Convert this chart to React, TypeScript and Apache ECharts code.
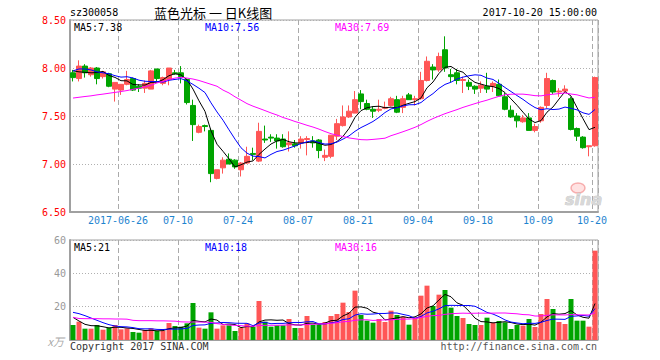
import React, { useEffect, useRef } from "react";
import * as echarts from "echarts";

// ---- data ----
const dates = [
  "2017-06-14","2017-06-15","2017-06-16","2017-06-19","2017-06-20","2017-06-21","2017-06-22","2017-06-23","2017-06-26","2017-06-27",
  "2017-06-28","2017-06-29","2017-06-30","2017-07-03","2017-07-04","2017-07-05","2017-07-06","2017-07-07","2017-07-10","2017-07-11",
  "2017-07-12","2017-07-13","2017-07-14","2017-07-17","2017-07-18","2017-07-19","2017-07-20","2017-07-21","2017-07-24","2017-07-25",
  "2017-07-26","2017-07-27","2017-07-28","2017-07-31","2017-08-01","2017-08-02","2017-08-03","2017-08-04","2017-08-07","2017-08-08",
  "2017-08-09","2017-08-10","2017-08-11","2017-08-14","2017-08-15","2017-08-16","2017-08-17","2017-08-18","2017-08-21","2017-08-22",
  "2017-08-23","2017-08-24","2017-08-25","2017-08-28","2017-08-29","2017-08-30","2017-08-31","2017-09-01","2017-09-04","2017-09-05",
  "2017-09-06","2017-09-07","2017-09-08","2017-09-11","2017-09-12","2017-09-13","2017-09-14","2017-09-15","2017-09-18","2017-09-19",
  "2017-09-20","2017-09-21","2017-09-22","2017-09-25","2017-09-26","2017-09-27","2017-09-28","2017-09-29","2017-10-09","2017-10-10",
  "2017-10-11","2017-10-12","2017-10-13","2017-10-16","2017-10-17","2017-10-18","2017-10-19","2017-10-20",
];

const opens = [
  7.95,7.89,8.02,7.93,8.00,7.91,7.94,7.78,7.77,7.83,
  7.89,7.81,7.79,7.78,7.99,7.84,7.88,7.95,7.95,7.88,
  7.61,7.33,7.40,7.35,6.85,6.96,7.05,7.04,6.94,7.01,
  7.11,7.03,7.26,7.28,7.27,7.26,7.20,7.21,7.22,7.255,
  7.24,7.25,7.07,7.08,7.29,7.40,7.49,7.53,7.73,7.63,
  7.57,7.56,7.58,7.61,7.67,7.59,7.72,7.67,7.68,7.87,
  8.01,7.98,8.19,7.93,7.95,7.87,7.85,7.81,7.79,7.81,
  7.81,7.83,7.70,7.56,7.50,7.44,7.48,7.35,7.45,7.61,
  7.87,7.75,7.76,7.68,7.37,7.28,7.18,7.19,
];
const closes = [
  7.90,8.02,7.95,8.00,7.89,7.96,7.81,7.85,7.83,7.88,
  7.77,7.79,7.84,7.97,7.89,7.90,8.00,7.94,7.91,7.64,
  7.41,7.39,7.39,6.90,6.94,7.04,7.00,6.97,7.01,7.08,
  7.10,7.34,7.25,7.27,7.24,7.18,7.22,7.19,7.26,7.265,
  7.22,7.14,7.09,7.30,7.42,7.49,7.55,7.67,7.65,7.57,
  7.55,7.57,7.59,7.68,7.54,7.68,7.67,7.68,7.87,8.07,
  7.98,8.12,8.00,7.91,7.87,7.88,7.81,7.78,7.82,7.78,
  7.84,7.71,7.57,7.49,7.45,7.48,7.35,7.39,7.59,7.89,
  7.75,7.76,7.78,7.36,7.29,7.17,7.19,7.90,
];
const lows = [
  7.86,7.86,7.90,7.91,7.83,7.89,7.80,7.65,7.72,7.82,
  7.76,7.75,7.74,7.78,7.86,7.82,7.82,7.93,7.84,7.62,
  7.24,7.32,7.34,6.81,6.84,6.90,7.00,6.95,6.87,7.00,
  7.04,7.02,7.22,7.23,7.16,7.17,7.13,7.17,7.16,7.09,
  7.17,7.06,7.03,7.06,7.25,7.39,7.48,7.53,7.57,7.56,
  7.48,7.54,7.57,7.60,7.53,7.53,7.67,7.61,7.67,7.86,
  7.88,7.96,7.96,7.85,7.83,7.74,7.77,7.73,7.74,7.74,
  7.75,7.70,7.56,7.48,7.38,7.43,7.35,7.33,7.43,7.58,
  7.73,7.70,7.74,7.35,7.24,7.16,7.08,7.18,
];
const highs = [
  7.98,8.08,8.04,8.01,8.01,7.97,7.95,7.85,7.83,7.97,
  7.90,7.83,7.87,7.98,7.99,7.91,8.00,7.98,8.02,7.89,
  7.67,7.41,7.41,7.37,6.94,7.07,7.11,7.05,7.02,7.18,
  7.17,7.43,7.40,7.31,7.31,7.31,7.34,7.25,7.29,7.29,
  7.29,7.26,7.15,7.30,7.47,7.61,7.61,7.76,7.77,7.67,
  7.60,7.67,7.65,7.70,7.71,7.71,7.74,7.71,7.96,8.12,
  8.04,8.16,8.33,7.99,7.99,7.91,7.88,7.82,7.86,7.95,
  7.86,7.88,7.74,7.61,7.53,7.51,7.53,7.42,7.60,7.95,
  7.88,7.79,7.82,7.70,7.38,7.29,7.19,7.91,
];
const volumes = [
  9,11,6.8,6.8,9,6.2,7.4,9,6.4,7,
  4.8,4.4,6,7,5.4,5.4,10.2,8.4,8,10,
  22.2,7.4,6.8,16.6,6.8,8.8,8.8,5.4,7.4,10,
  8,23.4,11,8,8.8,8.8,12.6,7.2,7.2,14.4,
  9.2,9.2,10.8,14.4,15.6,22.4,16.8,29.6,15,11.6,
  10.4,12.6,10.8,17.6,15,14,9.2,13.6,26.6,32.6,
  20.4,27.2,30,19.4,14.4,13.2,9.6,9,9,13.4,
  10.4,11.4,10.6,6.6,9,8.6,12.6,7.8,15.6,24.6,
  18.6,10.8,9.6,24.6,11.6,11.6,8,53.6,
];

// moving-average values at the start of the window (they depend on earlier days)
const ma5Lead = [7.97, 7.96, 7.955, 7.95];
const ma10Lead = [7.97, 7.99, 7.99, 7.98, 7.96, 7.95, 7.94, 7.92, 7.905];
const ma30Lead = [
  7.687,7.695,7.703,7.71,7.72,7.728,7.737,7.746,7.755,7.765,
  7.778,7.79,7.805,7.82,7.845,7.86,7.88,7.895,7.903,7.895,
  7.885,7.87,7.85,7.83,7.81,7.77,7.74,7.70,7.665,
];
const volMa5Lead = [13.6, 11.4, 9.4, 8.6];
const volMa10Lead = [16.6, 15.8, 14.6, 13.2, 11.8, 10.4, 9.2, 8.4, 8.0];
const volMa30Lead = [
  13.6,12.9,12.8,12.8,12.8,12.7,12.7,12.6,12.6,12.5,
  11.8,11.6,11.6,11.6,11.5,11.5,11.4,11.3,10.9,10.8,
  10.8,10.8,10.7,10.6,9.8,9.4,9.0,8.8,8.6,
];

const tickDates = ["2017-06-26","2017-07-10","2017-07-24","2017-08-07","2017-08-21","2017-09-04","2017-09-18","2017-10-09","2017-10-20"];
const tickLabels = ["2017-06-26","07-10","07-24","08-07","08-21","09-04","09-18","10-09","10-20"];

const priceTicks = [6.5, 7.0, 7.5, 8.0, 8.5];
const volTicks = [0, 20, 40, 60];

const titleCode = "sz300058";
const titleName = "蓝色光标 一 日K线图";
const titleTime = "2017-10-20 15:00:00";
const priceMaLabels = ["MA5:7.38", "MA10:7.56", "MA30:7.69"];
const volMaLabels = ["MA5:21", "MA10:18", "MA30:16"];

// ---- helpers ----
function movingAvg(vals: number[], n: number, lead: number[]) {
  return vals.map((_, i) => {
    if (i < n - 1) return lead[i];
    let s = 0;
    for (let k = i - n + 1; k <= i; k++) s += vals[k];
    return +(s / n).toFixed(4);
  });
}

const RED = "#ff5656";
const GREEN = "#00a400";
const MONO = "'DejaVu Sans Mono', monospace";
const MA_COLORS = ["#000000", "#0000ff", "#ff00ff"];

export default function App() {
  const ref = useRef<HTMLDivElement>(null);

  useEffect(() => {
    if (!ref.current) return;
    const chart = echarts.init(ref.current, undefined, { renderer: "svg" });

    const tickIdx = new Set(tickDates.map((d) => dates.indexOf(d)));
    const isTick = (index: number) => tickIdx.has(index);
    const labelFmt = (value: string) => {
      const k = tickDates.indexOf(value);
      return k >= 0 ? tickLabels[k] : "";
    };

    const candleData = dates.map((_, i) => [opens[i], closes[i], lows[i], highs[i]]);
    const volData = volumes.map((v, i) => ({
      value: v,
      itemStyle: { color: closes[i] >= opens[i] ? RED : GREEN },
    }));

    const pMa = [movingAvg(closes, 5, ma5Lead), movingAvg(closes, 10, ma10Lead), movingAvg(closes, 30, ma30Lead)];
    const vMa = [movingAvg(volumes, 5, volMa5Lead), movingAvg(volumes, 10, volMa10Lead), movingAvg(volumes, 30, volMa30Lead)];

    const splitX = { show: true, interval: isTick, lineStyle: { color: "#aaaaaa", type: [5, 3], width: 1 } };
    const splitY = { show: true, lineStyle: { color: "#b0b0b0", type: [1, 2], width: 1 } };

    const lineSeries = (data: number[], color: string, xi: number) => ({
      type: "line",
      xAxisIndex: xi,
      yAxisIndex: xi,
      data,
      symbol: "none",
      showSymbol: false,
      silent: true,
      z: 5,
      lineStyle: { width: 1, color },
    });

    const txt = (text: string, x: number, y: number, fill: string, extra: any = {}) => ({
      type: "text",
      x,
      y,
      silent: true,
      z: 100,
      style: {
        text,
        fill,
        font: extra.font || `10px ${MONO}`,
        textAlign: extra.align || "left",
        textVerticalAlign: "middle",
        align: extra.align || "left",
        verticalAlign: "middle",
        ...(extra.style || {}),
      },
    });

    const option: any = {
      animation: false,
      backgroundColor: "#ffffff",
      grid: [
        { left: 70, top: 20, width: 528, height: 192, show: true, borderColor: "#a0a0a0", borderWidth: 1 },
        { left: 70, top: 240, width: 528, height: 100, show: true, borderColor: "#a0a0a0", borderWidth: 1 },
      ],
      xAxis: [
        {
          type: "category",
          gridIndex: 0,
          data: dates,
          boundaryGap: true,
          axisLine: { show: true, lineStyle: { color: "#a0a0a0", width: 2 } },
          axisTick: { show: false },
          axisLabel: {
            interval: isTick,
            formatter: labelFmt,
            color: "#1f84cf",
            fontFamily: MONO,
            fontSize: 10,
            margin: 3,
            padding: [0, 6, 0, 0],
          },
          splitLine: splitX,
        },
        {
          type: "category",
          gridIndex: 1,
          data: dates,
          boundaryGap: true,
          axisLine: { show: true, lineStyle: { color: "#a0a0a0", width: 1 } },
          axisTick: { show: false },
          axisLabel: { show: false, interval: isTick },
          splitLine: splitX,
        },
      ],
      yAxis: [
        {
          type: "value",
          gridIndex: 0,
          min: priceTicks[0],
          max: priceTicks[priceTicks.length - 1],
          interval: 0.5,
          axisLine: { show: true, lineStyle: { color: "#a0a0a0", width: 2 } },
          axisTick: { show: false },
          axisLabel: {
            color: "#ff0000",
            fontFamily: MONO,
            fontSize: 10,
            margin: 4,
            formatter: (v: number) => v.toFixed(2),
          },
          splitLine: splitY,
        },
        {
          type: "value",
          gridIndex: 1,
          min: volTicks[0],
          max: volTicks[volTicks.length - 1],
          interval: 20,
          axisLine: { show: true, lineStyle: { color: "#a0a0a0", width: 2 } },
          axisTick: { show: false },
          axisLabel: {
            color: "#999999",
            fontFamily: MONO,
            fontSize: 10,
            margin: 4,
            formatter: (v: number) => (v === 0 ? "" : String(v)),
          },
          splitLine: splitY,
        },
      ],
      series: [
        {
          type: "candlestick",
          xAxisIndex: 0,
          yAxisIndex: 0,
          data: candleData,
          barWidth: 5,
          silent: true,
          itemStyle: {
            color: RED,
            color0: GREEN,
            borderColor: RED,
            borderColor0: GREEN,
            borderWidth: 1,
          },
        },
        lineSeries(pMa[0], MA_COLORS[0], 0),
        lineSeries(pMa[1], MA_COLORS[1], 0),
        lineSeries(pMa[2], MA_COLORS[2], 0),
        {
          type: "bar",
          xAxisIndex: 1,
          yAxisIndex: 1,
          data: volData,
          barWidth: 5,
          silent: true,
        },
        lineSeries(vMa[0], MA_COLORS[0], 1),
        lineSeries(vMa[1], MA_COLORS[1], 1),
        lineSeries(vMa[2], MA_COLORS[2], 1),
      ],
      graphic: [
        txt(titleCode, 70, 12, "#000000"),
        txt(titleName, 154, 12, "#000000", { font: "13px 'Noto Sans CJK SC', sans-serif", style: { whiteSpace: "pre" } }),
        txt(titleTime, 597, 12, "#000000", { align: "right" }),
        txt(priceMaLabels[0], 74, 27, MA_COLORS[0]),
        txt(priceMaLabels[1], 205, 27, MA_COLORS[1]),
        txt(priceMaLabels[2], 335, 27, MA_COLORS[2]),
        txt(volMaLabels[0], 74, 247, MA_COLORS[0]),
        txt(volMaLabels[1], 205, 247, MA_COLORS[1]),
        txt(volMaLabels[2], 335, 247, MA_COLORS[2]),
        txt("x万", 64, 341, "#aaaaaa", { align: "right", font: "italic 11px 'Noto Sans CJK SC', sans-serif" }),
        txt("Copyright 2017 SINA.COM", 70, 346, "#333333"),
        txt("http://finance.sina.com.cn", 597, 346, "#555555", { align: "right" }),
        {
          type: "ellipse",
          silent: true,
          z: 90,
          shape: { cx: 578, cy: 188, rx: 7, ry: 5 },
          style: { fill: "rgba(255,160,160,0.3)", stroke: "rgba(240,120,120,0.55)", lineWidth: 1.5 },
        },
        txt("sina", 565, 199, "#d8d8d8", {
          font: "italic bold 16px 'DejaVu Sans', sans-serif",
          style: { stroke: "#bdbdbd", lineWidth: 0.6 },
        }),
      ],
    };

    chart.setOption(option);
    return () => chart.dispose();
  }, []);

  return (
    <div
      ref={ref}
      style={{ position: "absolute", left: 0, top: 0, width: 660, height: 360 }}
    />
  );
}
